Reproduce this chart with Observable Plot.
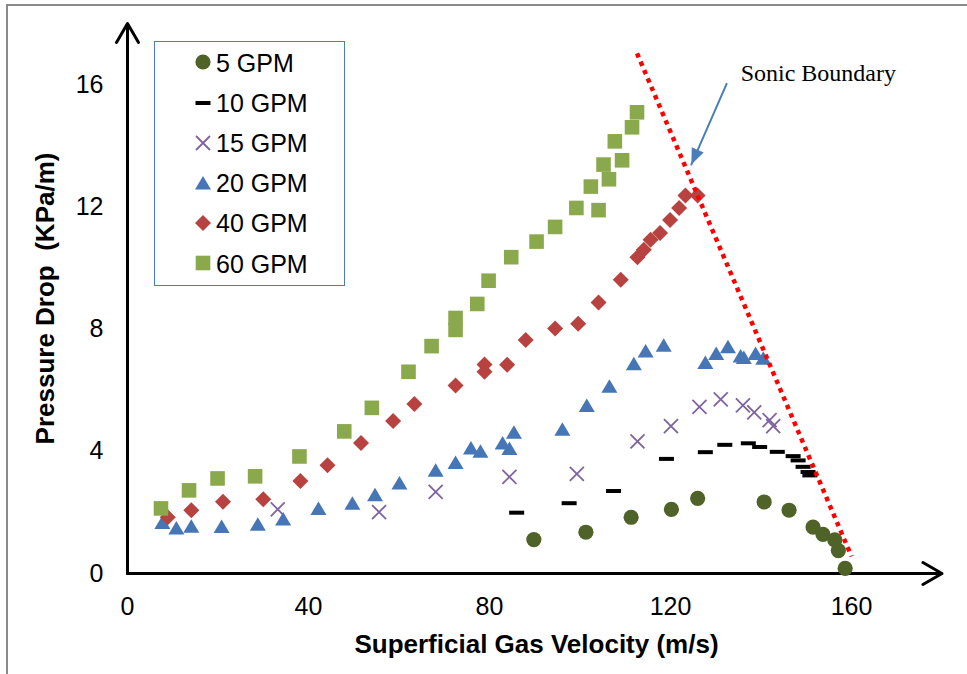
<!DOCTYPE html>
<html>
<head>
<meta charset="utf-8">
<script src="https://cdn.jsdelivr.net/npm/d3@7"></script>
<script src="https://cdn.jsdelivr.net/npm/@observablehq/plot@0.6"></script>
<style>
  html, body { margin: 0; padding: 0; background: #fff; }
  #wrap { position: relative; width: 967px; height: 674px; overflow: hidden; background: #fff; }
  #wrap > svg { position: absolute; left: 0; top: 0; }
  .frameL { position: absolute; left: 6px; top: 4px; width: 2px; height: 700px; background: #8a8a8a; }
  .frameT { position: absolute; left: 6px; top: 4px; height: 2px; width: 980px; background: #8a8a8a; }
  #legend { position: absolute; left: 154px; top: 41px; width: 191px; height: 245px;
            border: 1.5px solid #4a7ebb; background: #fff; box-sizing: border-box; }
  .lgText { position: absolute; font-family: 'Liberation Sans', Arial, sans-serif; font-size: 25px;
            line-height: 30px; height: 30px; color: #000; white-space: nowrap; }
  .lgMark { position: absolute; }
</style>
</head>
<body>
<div id="wrap"></div>
<script>
// ---------------- data ----------------
const seriesNames = ["5 GPM", "10 GPM", "15 GPM", "20 GPM", "40 GPM", "60 GPM"];

const vel5 = [89.8, 101.3, 111.3, 120.2, 126.0, 140.7, 146.2, 151.5, 153.7, 156.3, 157.1, 158.6];
const dp5  = [1.11, 1.35, 1.84, 2.10, 2.46, 2.34, 2.07, 1.52, 1.28, 1.10, 0.75, 0.17];

const vel10 = [86.0, 97.6, 107.4, 119.1, 127.7, 132.0, 137.2, 139.7, 143.6, 147.1, 148.2, 149.3, 150.4, 150.8];
const dp10  = [1.99, 2.30, 2.70, 3.75, 3.97, 4.21, 4.26, 4.14, 3.98, 3.84, 3.70, 3.49, 3.32, 3.21];

const vel15 = [33.2, 55.6, 68.1, 84.4, 99.3, 112.7, 120.1, 126.4, 131.1, 136.0, 138.5, 141.9, 142.7];
const dp15  = [2.10, 2.01, 2.67, 3.16, 3.26, 4.32, 4.82, 5.45, 5.70, 5.50, 5.27, 5.02, 4.82];

const vel20 = [7.7, 10.8, 14.1, 20.8, 28.8, 34.4, 42.2, 49.7, 54.7, 60.1, 68.1, 72.5, 75.9, 78.0, 82.9,
               84.4, 85.4, 96.1, 101.5, 106.5, 111.9, 114.5, 118.5, 127.7, 130.1, 132.7, 135.5, 136.2, 138.8, 140.5];
const dp20  = [1.67, 1.49, 1.55, 1.54, 1.61, 1.78, 2.13, 2.30, 2.58, 2.96, 3.38, 3.63, 4.11, 4.00, 4.27,
               4.09, 4.62, 4.72, 5.50, 6.13, 6.86, 7.28, 7.47, 6.90, 7.20, 7.42, 7.12, 7.07, 7.20, 7.04];

const vel40 = [8.9, 14.1, 21.1, 30.0, 38.2, 44.2, 51.6, 58.7, 63.4, 72.5, 78.9, 78.9, 83.9, 88.0, 94.5,
               99.6, 104.1, 109.0, 112.7, 114.1, 115.6, 117.7, 119.9, 121.9, 123.3, 126.0];
const dp40  = [1.84, 2.07, 2.35, 2.43, 3.03, 3.54, 4.27, 4.99, 5.55, 6.15, 6.84, 6.60, 6.83, 7.64, 8.02,
               8.17, 8.87, 9.61, 10.35, 10.59, 10.92, 11.14, 11.57, 11.96, 12.37, 12.37];

const vel60 = [7.4, 13.6, 19.9, 28.2, 38.0, 47.9, 54.0, 62.1, 67.2, 72.5, 72.5, 77.3, 79.8, 84.8, 90.4,
               94.5, 99.2, 104.1, 102.4, 106.4, 105.2, 109.3, 107.7, 111.5, 112.6];
const dp60  = [2.13, 2.72, 3.11, 3.18, 3.83, 4.65, 5.42, 6.60, 7.44, 8.36, 7.97, 8.82, 9.58, 10.35, 10.86,
               11.34, 11.96, 11.89, 12.66, 12.90, 13.38, 13.52, 14.14, 14.60, 15.09];

// sonic boundary (dotted line), annotation arrow and its label
const sonicVel = [112.6, 160.0];
const sonicDp  = [17.02, 0.56];
const arrowVel = [132.4, 124.6];
const arrowDp  = [16.02, 13.38];
const sonicLabelText = ["Sonic Boundary"];
const sonicLabelVel = [135.5];
const sonicLabelDp  = [16.36];

const xTicks = [0, 40, 80, 120, 160];
const yTicks = [0, 4, 8, 12, 16];
const xDomain = [0, 160];
const yDomain = [0, 16];
const axisEnd = {x: 180, y: 18};   // axis lines run past the domain to the arrowheads
const xTitle = "Superficial Gas Velocity (m/s)";
const yTitle = "Pressure Drop  (KPa/m)";

// ---------------- styles ----------------
const W = 967, H = 674;
const M = {left: 127, right: 116, top: 84, bottom: 101};
const sans = "'Liberation Sans', Arial, sans-serif";
const serif = "'Liberation Serif', 'Times New Roman', serif";

const circleSym = {draw(c) { const r = 7.6; c.moveTo(r, 0); c.arc(0, 0, r, 0, 2 * Math.PI); }};
const dashSym   = {draw(c) { c.rect(-7.5, -2, 15, 4); }};
const timesSym  = {draw(c) { const h = 7; c.moveTo(-h, -h); c.lineTo(h, h); c.moveTo(h, -h); c.lineTo(-h, h); }};
const triSym    = {draw(c) { c.moveTo(0, -7); c.lineTo(8, 6.5); c.lineTo(-8, 6.5); c.closePath(); }};
const diaSym    = {draw(c) { const h = 8; c.moveTo(0, -h); c.lineTo(h, 0); c.lineTo(0, h); c.lineTo(-h, 0); c.closePath(); }};
const sqSym     = {draw(c) { c.rect(-7.3, -7.3, 14.6, 14.6); }};
const headSym   = {draw(c) { c.moveTo(0, 0); c.lineTo(6.5, 16); c.lineTo(-6.5, 16); c.closePath(); }};

const seriesStyle = [
  {sym: circleSym, fill: "#4f6228", stroke: "none", sw: 0},
  {sym: dashSym,   fill: "#000000", stroke: "none", sw: 0},
  {sym: timesSym,  fill: "none",    stroke: "#7f63a1", sw: 1.8},
  {sym: triSym,    fill: "#4676b5", stroke: "none", sw: 0},
  {sym: diaSym,    fill: "#b7423f", stroke: "none", sw: 0},
  {sym: sqSym,     fill: "#8aa84c", stroke: "none", sw: 0}
];

// ---------------- build ----------------
const rows = (vs, ps) => vs.map((v, i) => ({v, p: ps[i]}));
const seriesData = [
  rows(vel5, dp5), rows(vel10, dp10), rows(vel15, dp15),
  rows(vel20, dp20), rows(vel40, dp40), rows(vel60, dp60)
];

const seriesMarks = seriesData.map((data, i) => {
  const s = seriesStyle[i];
  return Plot.dot(data, {x: "v", y: "p", r: 5, symbol: s.sym, fill: s.fill, stroke: s.stroke, strokeWidth: s.sw});
});

// arrowhead rotation from the scale geometry
const kx = (W - M.left - M.right) / (xDomain[1] - xDomain[0]);
const ky = (H - M.top - M.bottom) / (yDomain[1] - yDomain[0]);
const adx = (arrowVel[1] - arrowVel[0]) * kx;
const ady = -(arrowDp[1] - arrowDp[0]) * ky;
const headAngle = Math.atan2(adx, -ady) * 180 / Math.PI;

const chart = Plot.plot({
  width: W, height: H,
  marginLeft: M.left, marginRight: M.right, marginTop: M.top, marginBottom: M.bottom,
  style: {fontFamily: sans, fontSize: "25px", color: "#000", background: "transparent", overflow: "visible"},
  x: {domain: xDomain, ticks: xTicks, tickSize: 0, tickPadding: 24, label: null},
  y: {domain: yDomain, ticks: yTicks, tickSize: 0, tickPadding: 24, label: null},
  marks: [
    Plot.arrow([{x1: 0, y1: 0, x2: axisEnd.x, y2: 0}], {x1: "x1", y1: "y1", x2: "x2", y2: "y2",
      stroke: "#000", strokeWidth: 3, headLength: 11, headAngle: 60}),
    Plot.arrow([{x1: 0, y1: 0, x2: 0, y2: axisEnd.y}], {x1: "x1", y1: "y1", x2: "x2", y2: "y2",
      stroke: "#000", strokeWidth: 3, headLength: 11, headAngle: 60}),
    ...seriesMarks,
    Plot.line(rows(sonicVel, sonicDp), {x: "v", y: "p", stroke: "#ff0000", strokeWidth: 4.5,
      strokeDasharray: "4.5,4.6", strokeLinecap: "butt"}),
    Plot.line(rows(arrowVel, arrowDp), {x: "v", y: "p", stroke: "#4a7ebb", strokeWidth: 2}),
    Plot.dot(rows(arrowVel, arrowDp).slice(1), {x: "v", y: "p", r: 5, symbol: headSym,
      fill: "#4a7ebb", stroke: "none", rotate: headAngle}),
    Plot.text(sonicLabelText.map((t, i) => ({t, v: sonicLabelVel[i], p: sonicLabelDp[i]})),
      {x: "v", y: "p", text: "t", textAnchor: "start", fontFamily: serif, fontSize: 24, fill: "#000"}),
    Plot.text([xTitle], {frameAnchor: "bottom", text: d => d, dx: 47, dy: 70.7,
      textAnchor: "middle", lineAnchor: "middle",
      fontWeight: "bold", fontSize: 26, fill: "#000"}),
    Plot.text([yTitle], {frameAnchor: "left", text: d => d, rotate: -90, dx: -82.3, dy: -30.5,
      textAnchor: "middle", lineAnchor: "middle",
      fontWeight: "bold", fontSize: 26, fill: "#000"})
  ]
});

const wrap = document.getElementById("wrap");
wrap.appendChild(chart);

// frame lines of the original picture
const fl = document.createElement("div"); fl.className = "frameL"; wrap.appendChild(fl);
const ft = document.createElement("div"); ft.className = "frameT"; wrap.appendChild(ft);

// legend
const lg = document.createElement("div"); lg.id = "legend"; wrap.appendChild(lg);
const rowY0 = 62.3, rowStep = 40.2, markX = 203, textX = 216;
seriesNames.forEach((name, i) => {
  const cy = rowY0 + rowStep * i;
  const s = seriesStyle[i];
  const svg = d3.create("svg").attr("class", "lgMark").attr("width", 24).attr("height", 24)
    .style("left", (markX - 12) + "px").style("top", (cy - 12) + "px");
  svg.append("path").attr("transform", "translate(12,12)")
    .attr("d", d3.symbol().type(s.sym)())
    .attr("fill", s.fill).attr("stroke", s.stroke).attr("stroke-width", s.sw);
  wrap.appendChild(svg.node());
  const t = document.createElement("div");
  t.className = "lgText"; t.textContent = name;
  t.style.left = textX + "px"; t.style.top = (cy - 14.7) + "px";
  wrap.appendChild(t);
});
</script>
</body>
</html>
